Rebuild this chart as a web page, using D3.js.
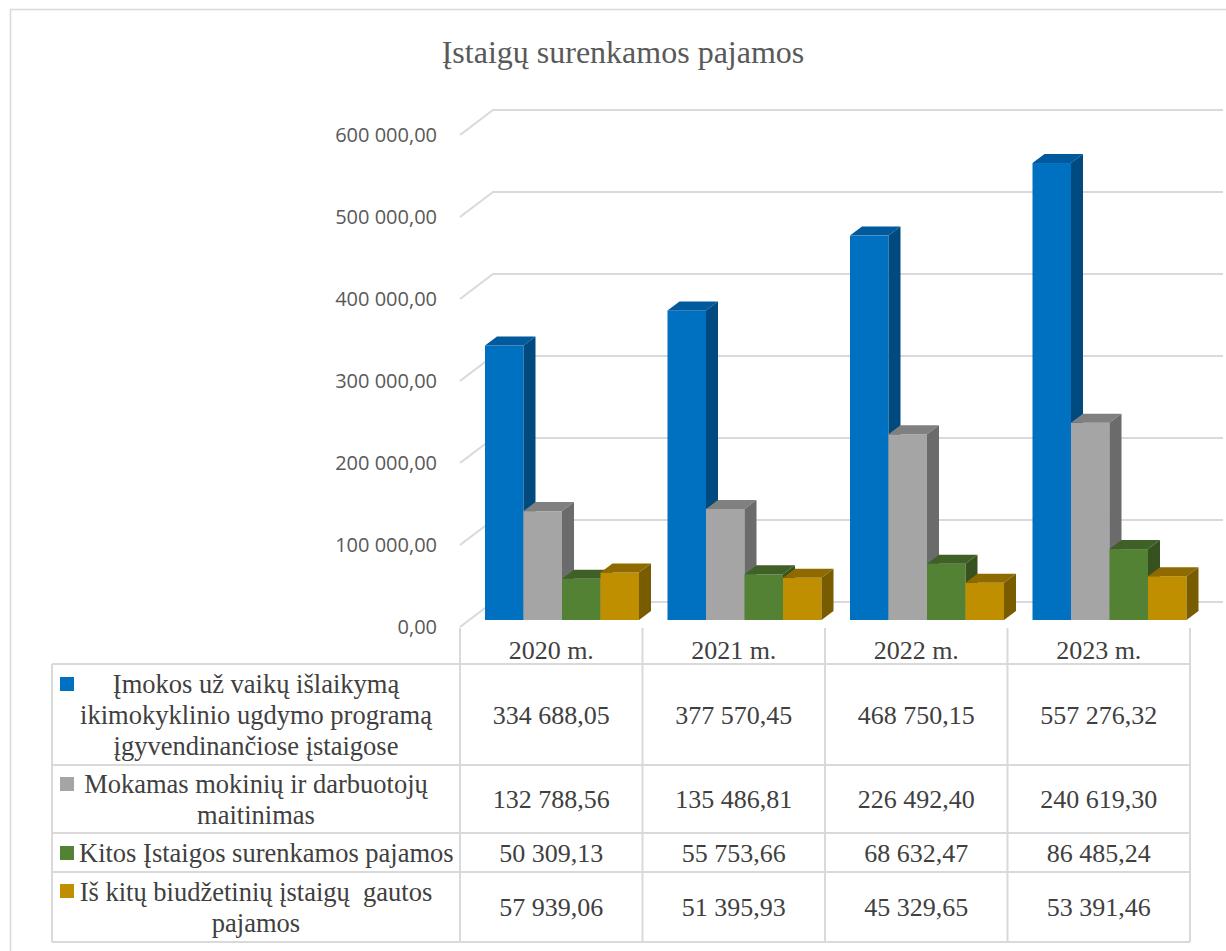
<!DOCTYPE html>
<html>
<head>
<meta charset="utf-8">
<script src="https://cdnjs.cloudflare.com/ajax/libs/d3/7.8.5/d3.min.js"></script>
<style>
  body { margin: 0; background: #fff; }
  .table text { white-space: pre; }
</style>
</head>
<body>
<svg id="chart"></svg>
<script>
// chart data
let years = ["2020 m.", "2021 m.", "2022 m.", "2023 m."];
let seriesNames = [
    "Įmokos už vaikų išlaikymą ikimokyklinio ugdymo programą įgyvendinančiose įstaigose",
    "Mokamas mokinių ir darbuotojų maitinimas",
    "Kitos Įstaigos surenkamos pajamos",
    "Iš kitų biudžetinių įstaigų  gautos pajamos"
];
// how the long names are wrapped in the data table
let seriesLines = [
    ["Įmokos už vaikų išlaikymą", "ikimokyklinio ugdymo programą", "įgyvendinančiose įstaigose"],
    ["Mokamas mokinių ir darbuotojų", "maitinimas"],
    ["Kitos Įstaigos surenkamos pajamos"],
    ["Iš kitų biudžetinių įstaigų  gautos", "pajamos"]
];
let imokos   = [334688.05, 377570.45, 468750.15, 557276.32];
let maitinimas = [132788.56, 135486.81, 226492.40, 240619.30];
let kitos    = [50309.13, 55753.66, 68632.47, 86485.24];
let isKitu   = [57939.06, 51395.93, 45329.65, 53391.46];
let yTicks = [0, 100000, 200000, 300000, 400000, 500000, 600000];

let values = [imokos, maitinimas, kitos, isKitu];
let colors = [
    {front: "#0070c0", side: "#004a80", top: "#005a9c"},
    {front: "#a5a5a5", side: "#6b6b6b", top: "#808080"},
    {front: "#548235", side: "#36531f", top: "#3f6127"},
    {front: "#bf8f00", side: "#7a5c00", top: "#8e6a00"}
];

let W = 1226, H = 951;
let svg = d3.select("#chart").attr("width", W).attr("height", H);

let numFmt = function(v) {
    // 334 688,05 style
    let s = v.toFixed(2).split(".");
    return s[0].replace(/\B(?=(\d{3})+(?!\d))/g, " ") + "," + s[1];
};

// chart frame
svg.append("rect")
    .attr("x", 10.5).attr("y", 9.5)
    .attr("width", W + 20).attr("height", H + 20)
    .attr("fill", "none").attr("stroke", "#d9d9d9").attr("stroke-width", 1.5);

svg.append("text")
    .attr("x", 623).attr("y", 63)
    .attr("text-anchor", "middle")
    .style("font-family", "'Liberation Serif', 'Times New Roman', serif")
    .style("font-size", "32px")
    .style("fill", "#595959")
    .text("Įstaigų surenkamos pajamos");

// scales
let y = d3.scaleLinear().domain([0, 600000]).range([627, 135]);
let x = d3.scaleBand().domain(years).range([460, 1190]);
let xs = d3.scaleBand().domain(d3.range(4)).range([25, 179]);

let depth = {dx: 33, dy: -25};   // wall depth
let barDepth = {dx: 12, dy: -9};
let barBase = -7;                // bars stand a bit behind the front edge

// gridlines: short diagonal on the side wall + horizontal on back wall
let grid = svg.append("g").attr("class", "grid");
yTicks.forEach(function(t) {
    grid.append("path")
        .attr("d", "M" + x.range()[0] + "," + y(t) +
                   "L" + (x.range()[0] + depth.dx) + "," + (y(t) + depth.dy) +
                   "L" + 1223 + "," + (y(t) + depth.dy))
        .attr("fill", "none").attr("stroke", "#d9d9d9").attr("stroke-width", 2);
});

// y axis labels
svg.append("g").selectAll("text")
    .data(yTicks)
    .enter().append("text")
    .attr("x", 437)
    .attr("y", function(d) { return y(d); })
    .attr("dy", "0.36em")
    .attr("text-anchor", "end")
    .style("font-family", "'Open Sans', 'Liberation Sans', sans-serif")
    .style("font-size", "20px")
    .style("fill", "#595959")
    .text(numFmt);

// 3d bars, drawn left to right so the next bar covers the side of the previous one
let bars = svg.append("g").attr("class", "bars");
years.forEach(function(yr, i) {
    values.forEach(function(series, s) {
        let x0 = x(yr) + xs(s), x1 = x0 + xs.bandwidth();
        let yb = y(0) + barBase, yt = y(series[i]) + barBase;
        let c = colors[s];
        bars.append("rect")
            .attr("x", x0).attr("y", yt)
            .attr("width", x1 - x0).attr("height", yb - yt)
            .attr("fill", c.front);
        bars.append("path")
            .attr("d", "M" + x0 + "," + yt + "L" + (x0 + barDepth.dx) + "," + (yt + barDepth.dy) +
                       "L" + (x1 + barDepth.dx) + "," + (yt + barDepth.dy) + "L" + x1 + "," + yt + "Z")
            .attr("fill", c.top);
        bars.append("path")
            .attr("d", "M" + x1 + "," + yt + "L" + (x1 + barDepth.dx) + "," + (yt + barDepth.dy) +
                       "L" + (x1 + barDepth.dx) + "," + (yb + barDepth.dy) + "L" + x1 + "," + yb + "Z")
            .attr("fill", c.side);
    });
});

// data table under the chart
let rowEdges = [664, 765, 833, 872, 942];
let tableLeft = 52, tableRight = x.range()[1];
let lineCol = "#d9d9d9";
let serif = "'Liberation Serif', 'Times New Roman', serif";
let table = svg.append("g").attr("class", "table");

rowEdges.forEach(function(ry) {
    table.append("line")
        .attr("x1", tableLeft).attr("x2", tableRight)
        .attr("y1", ry).attr("y2", ry)
        .attr("stroke", lineCol).attr("stroke-width", 2);
});
table.append("line")
    .attr("x1", tableLeft).attr("x2", tableLeft)
    .attr("y1", rowEdges[0]).attr("y2", rowEdges[4])
    .attr("stroke", lineCol).attr("stroke-width", 2);
years.concat(["end"]).forEach(function(yr, i) {
    let cx = i < years.length ? x(yr) : x.range()[1];
    table.append("line")
        .attr("x1", cx).attr("x2", cx)
        .attr("y1", 628).attr("y2", rowEdges[4])
        .attr("stroke", lineCol).attr("stroke-width", 2);
});

// year header
table.selectAll(".year")
    .data(years)
    .enter().append("text")
    .attr("class", "year")
    .attr("x", function(d) { return x(d) + x.bandwidth() / 2; })
    .attr("y", 650)
    .attr("dy", "0.35em")
    .attr("text-anchor", "middle")
    .style("font-family", serif).style("font-size", "26px").style("fill", "#404040")
    .text(function(d) { return d; });

let keyY = [677, 777, 846, 884];
seriesLines.forEach(function(lines, s) {
    let top = rowEdges[s], bottom = rowEdges[s + 1];
    let mid = (top + bottom) / 2;
    let lh = 31;

    table.append("rect")
        .attr("x", 60).attr("y", keyY[s])
        .attr("width", 14).attr("height", 14)
        .attr("fill", colors[s].front);

    let label = table.append("text")
        .attr("text-anchor", "middle")
        .style("font-family", serif).style("font-size", "26.5px").style("fill", "#404040");
    lines.forEach(function(l, k) {
        label.append("tspan")
            .attr("x", 256)
            .attr("y", mid + (k - (lines.length - 1) / 2) * lh)
            .attr("dy", "0.35em")
            .text(l);
    });
    // keep the text clear of the legend key
    let w = label.node().getBBox().width;
    if (256 - w / 2 < 79) label.selectAll("tspan").attr("x", 79 + w / 2);

    values[s].forEach(function(v, i) {
        table.append("text")
            .attr("x", x(years[i]) + x.bandwidth() / 2)
            .attr("y", mid)
            .attr("dy", "0.35em")
            .attr("text-anchor", "middle")
            .style("font-family", serif).style("font-size", "26px").style("fill", "#404040")
            .text(numFmt(v));
    });
});
</script>
</body>
</html>
